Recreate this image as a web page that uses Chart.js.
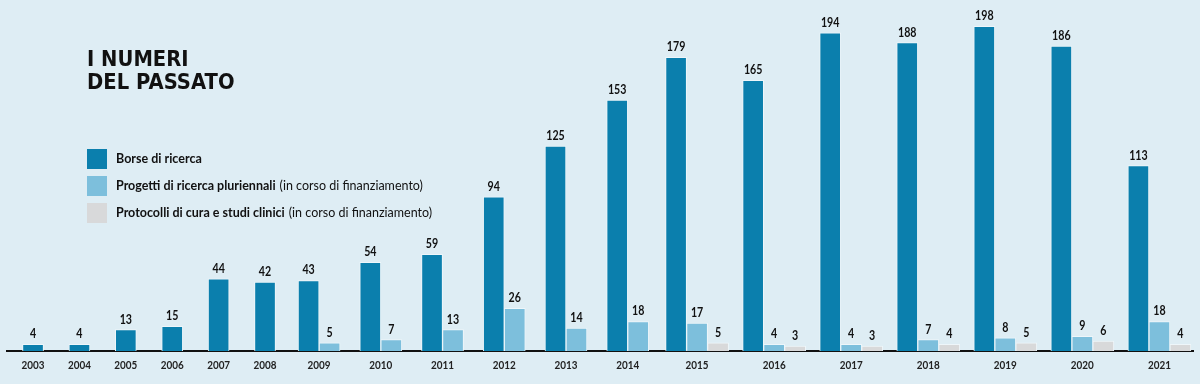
<!DOCTYPE html>
<html>
<head>
<meta charset="utf-8">
<script src="https://cdn.jsdelivr.net/npm/chart.js@4.4.0/dist/chart.umd.min.js"></script>
<style>
  body { margin: 0; background: #deedf4; }
  #wrap { position: relative; width: 1200px; height: 384px; overflow: hidden; }
  #myChart { position: absolute; left: 0; top: 0; }
  .title {
    position: absolute; left: 87px; top: 47px;
    font-family: "DejaVu Sans", sans-serif;
    font-weight: bold; font-size: 22px; line-height: 23px;
    color: #111; transform: scaleX(0.89); transform-origin: left top;
  }
  .legend {
    position: absolute; left: 87px; top: 145px;
    font-family: Lato, sans-serif;
    font-size: 12.5px; color: #111;
  }
  .legend div { height: 27px; display: flex; align-items: center; }
  .legend span.box { width: 20px; height: 20px; margin-right: 9px; display: inline-block; }
  .legend b { margin-right: 4px; }
</style>
</head>
<body>
<div id="wrap">
  <canvas id="myChart" width="1200" height="384"></canvas>
  <div class="title">I NUMERI<br>DEL PASSATO</div>
  <div class="legend" id="legend"></div>
</div>
<script>
const years = ['2003','2004','2005','2006','2007','2008','2009','2010','2011','2012',
  '2013','2014','2015','2016','2017','2018','2019','2020','2021'];
const borse = [4, 4, 13, 15, 44, 42, 43, 54, 59, 94, 125, 153, 179, 165, 194, 188, 198, 186, 113];
const progetti = [null, null, null, null, null, null, 5, 7, 13, 26, 14, 18, 17, 4, 4, 7, 8, 9, 18];
const protocolli = [null, null, null, null, null, null, null, null, null, null, null, null, 5, 3, 3, 4, 5, 6, 4];

const names = ['Borse di ricerca', 'Progetti di ricerca pluriennali', 'Protocolli di cura e studi clinici'];
const notes = ['', '(in corso di finanziamento)', '(in corso di finanziamento)'];
const colors = ['#0b7fad', '#7dbfdc', '#d8d9da'];
const series = [borse, progetti, protocolli];

// groups get wider the more bars they hold, like the printed graphic
const counts = years.map((y, i) => series.filter(s => s[i] !== null).length);
const pos = [0];
for (let i = 1; i < years.length; i++) {
    pos.push(pos[i - 1] + 1.48 + 0.73 * (counts[i - 1] + counts[i]) / 2);
}

// legend as html
const legend = document.getElementById('legend');
names.forEach((n, i) => {
    const row = document.createElement('div');
    row.innerHTML = '<span class="box" style="background:' + colors[i] + '"></span><b>' + n + '</b>' + notes[i];
    legend.appendChild(row);
});

function narrowText(ctx, text, x, y, sx) {
    ctx.save();
    ctx.translate(x, y);
    ctx.scale(sx, 1);
    ctx.fillText(text, 0, 0);
    ctx.restore();
}

const valueLabels = {
    id: 'valueLabels',
    afterDatasetsDraw(chart) {
        const ctx = chart.ctx;
        ctx.save();
        ctx.font = 'bold 13px Lato, sans-serif';
        ctx.fillStyle = '#111';
        ctx.textAlign = 'center';
        ctx.textBaseline = 'alphabetic';
        chart.data.datasets.forEach((ds, i) => {
            chart.getDatasetMeta(i).data.forEach((bar, j) => {
                const v = series[i][j];
                if (v === null) return;
                narrowText(ctx, v, bar.x, bar.y - 6, 0.82);
            });
        });
        ctx.restore();
    }
};

const yearLabels = {
    id: 'yearLabels',
    afterDraw(chart) {
        const ctx = chart.ctx;
        const x = chart.scales.x;
        ctx.save();
        ctx.font = 'bold 11px Lato, sans-serif';
        ctx.fillStyle = '#222';
        ctx.textAlign = 'center';
        ctx.textBaseline = 'middle';
        years.forEach((y, i) => narrowText(ctx, y, x.getPixelForValue(pos[i]), chart.chartArea.bottom + 14, 0.9));
        ctx.restore();
    }
};

const ctx = document.getElementById('myChart');

new Chart(ctx, {
    type: 'bar',
    data: {
        datasets: series.map((d, i) => ({
            label: names[i],
            data: d.map((v, j) => ({ x: pos[j], y: v })),
            backgroundColor: colors[i],
            borderColor: '#eef6fa',
            borderWidth: { top: 1, left: 1, right: 1, bottom: 0 },
            borderSkipped: false,
            barThickness: 21
        }))
    },
    options: {
        responsive: false,
        animation: false,
        skipNull: true,
        layout: { padding: { top: 23, left: 7, right: 7, bottom: 25 } },
        plugins: { legend: { display: false }, tooltip: { enabled: false } },
        scales: {
            x: {
                type: 'linear',
                offset: false,
                bounds: 'data',
                min: pos[0] - 1.24,
                max: pos[pos.length - 1] + 1.6,
                grid: { display: false },
                border: { display: true, color: '#111', width: 2 },
                ticks: { display: false }
            },
            y: { display: false, min: 0, max: 200 }
        }
    },
    plugins: [valueLabels, yearLabels]
});
</script>
</body>
</html>
